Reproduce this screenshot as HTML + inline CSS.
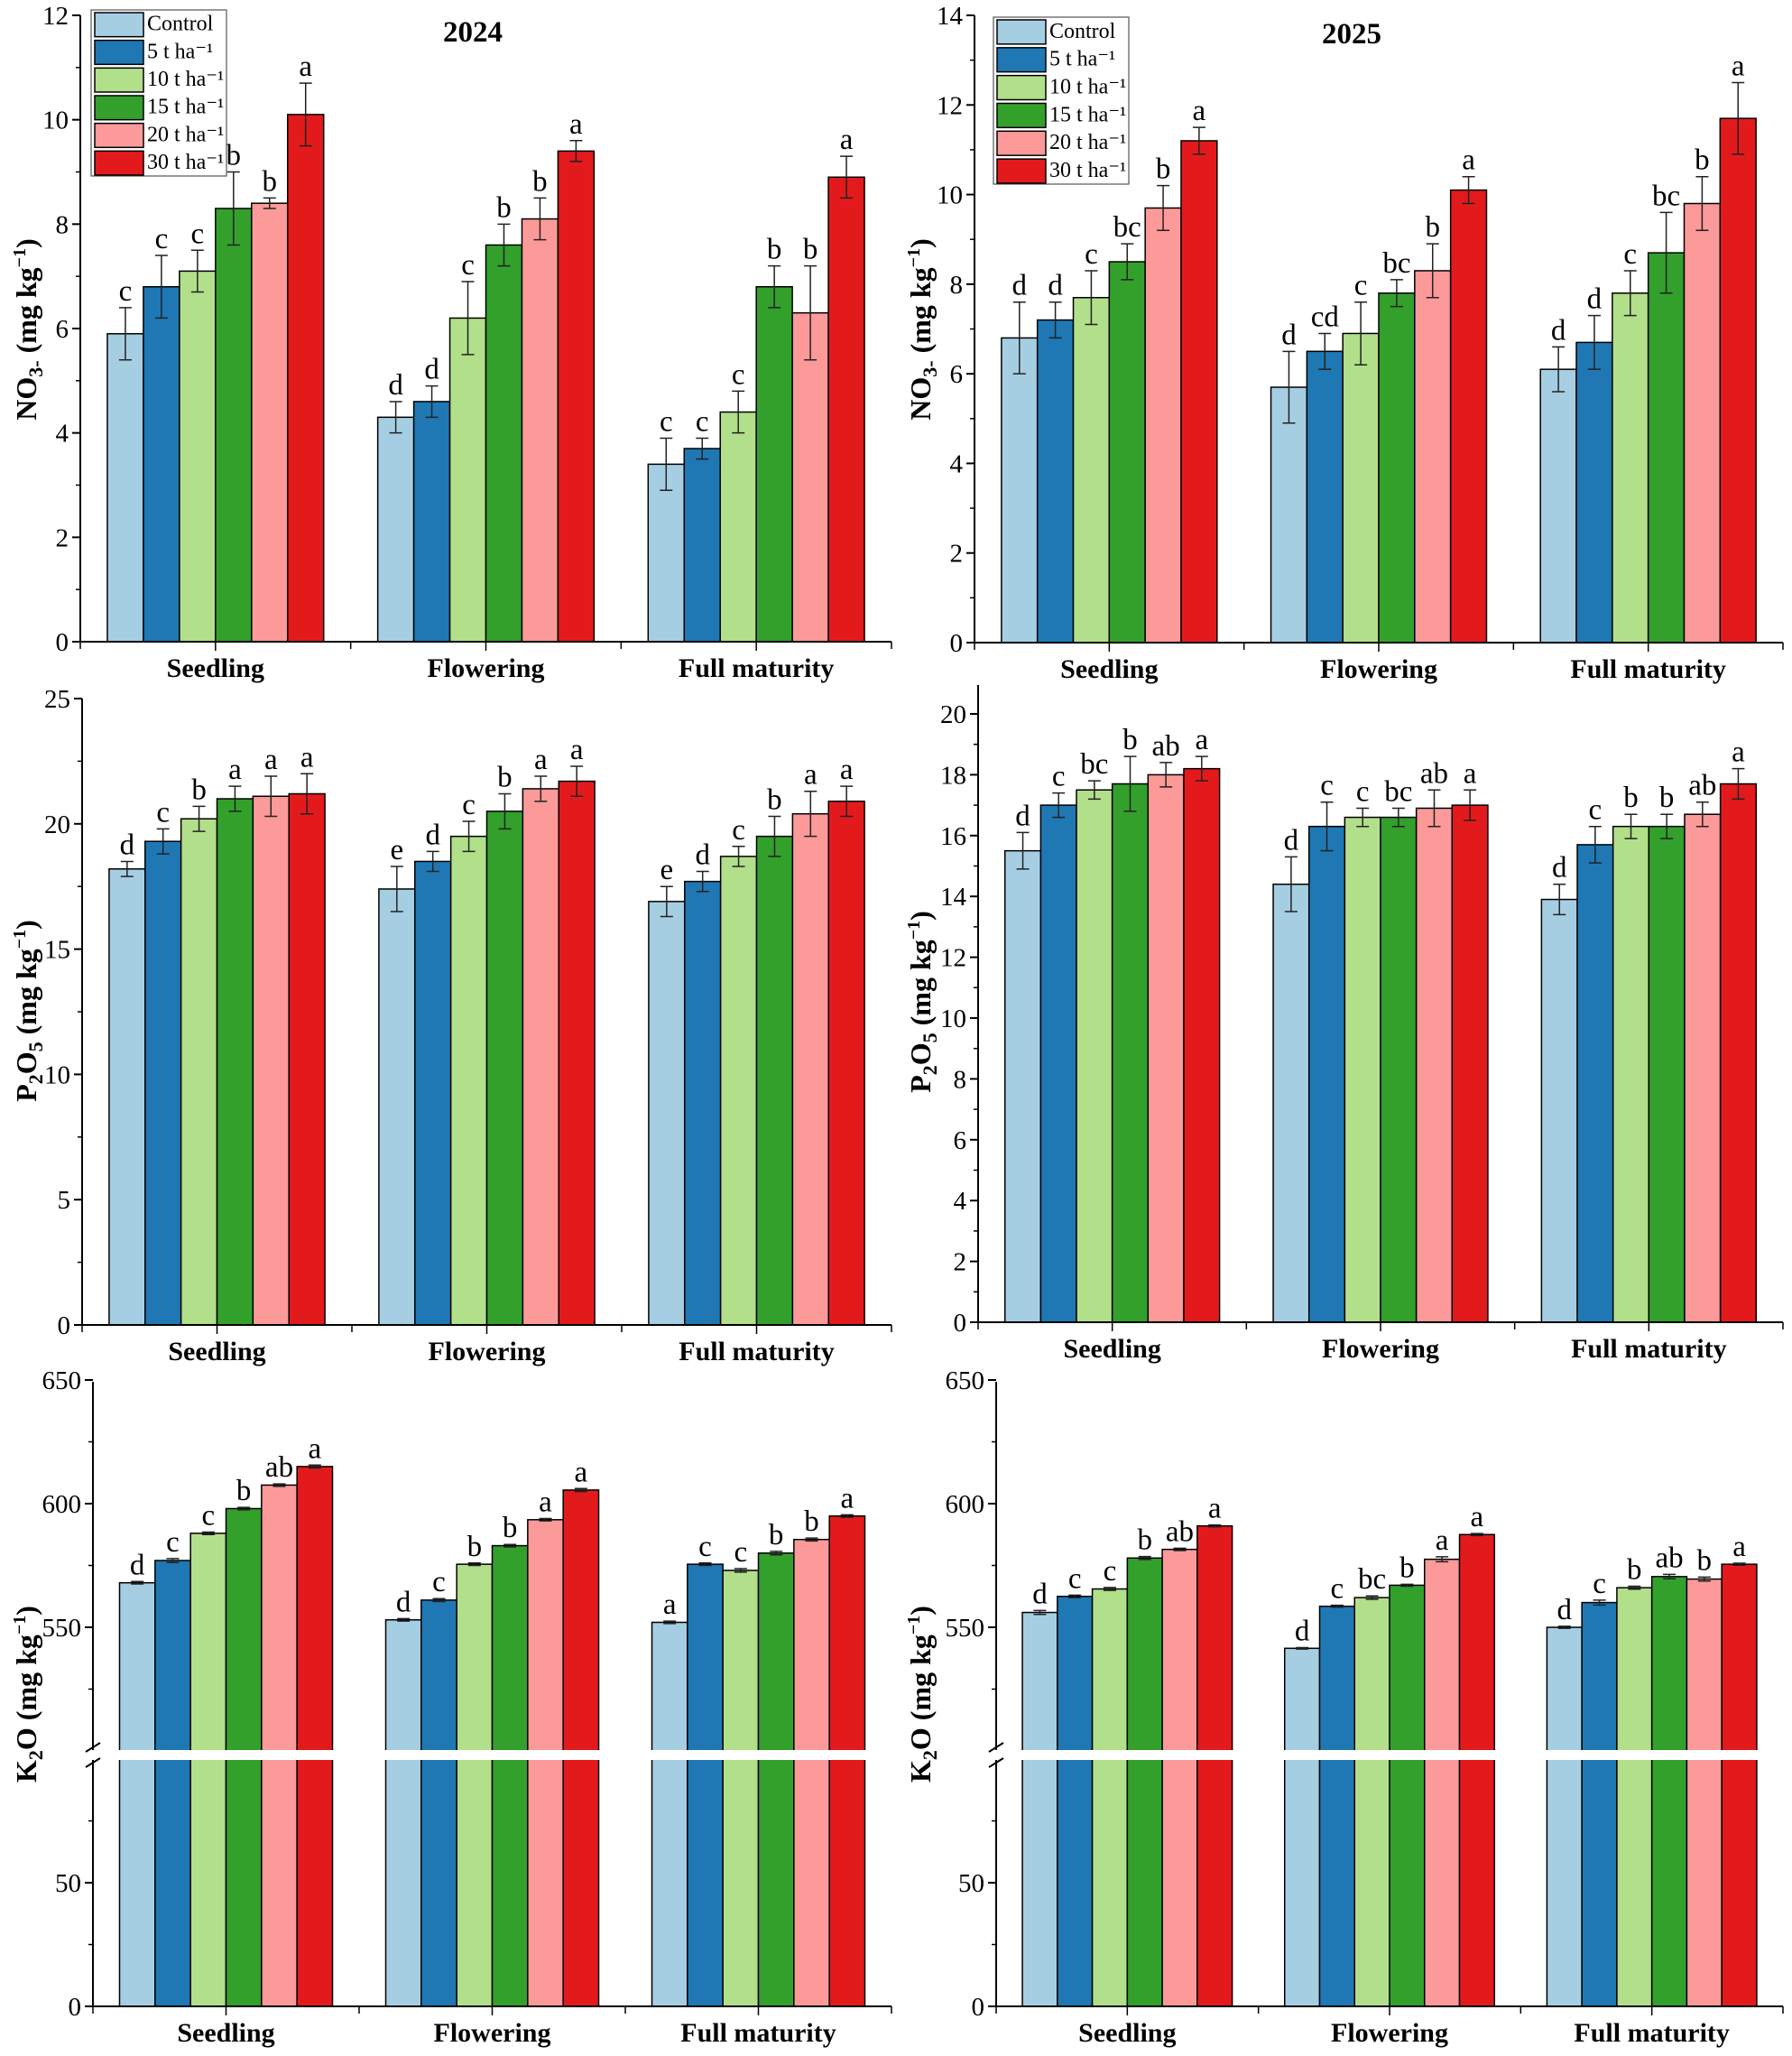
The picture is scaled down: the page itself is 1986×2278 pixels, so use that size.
<!DOCTYPE html>
<html><head><meta charset="utf-8"><style>
html,body{margin:0;padding:0;background:#fff}
svg{display:block}
text{font-family:"Liberation Serif",serif;fill:#000}
</style></head><body>
<svg id="fig" width="1986" height="2278" viewBox="0 0 1986 2278" xmlns="http://www.w3.org/2000/svg"></svg>
<script>
const stages = ["Seedling","Flowering","Full maturity"];
const treatments = ["Control","5 t ha⁻¹","10 t ha⁻¹","15 t ha⁻¹","20 t ha⁻¹","30 t ha⁻¹"];
const colors = ["#a6cee3","#1f78b4","#b2df8a","#33a02c","#fb9a99","#e31a1c"];

const no3_2024 = [[5.9,6.8,7.1,8.3,8.4,10.1],[4.3,4.6,6.2,7.6,8.1,9.4],[3.4,3.7,4.4,6.8,6.3,8.9]];
const no3_2024_err = [[0.5,0.6,0.4,0.7,0.1,0.6],[0.3,0.3,0.7,0.4,0.4,0.2],[0.5,0.2,0.4,0.4,0.9,0.4]];
const no3_2024_let = [["c","c","c","b","b","a"],["d","d","c","b","b","a"],["c","c","c","b","b","a"]];

const no3_2025 = [[6.8,7.2,7.7,8.5,9.7,11.2],[5.7,6.5,6.9,7.8,8.3,10.1],[6.1,6.7,7.8,8.7,9.8,11.7]];
const no3_2025_err = [[0.8,0.4,0.6,0.4,0.5,0.3],[0.8,0.4,0.7,0.3,0.6,0.3],[0.5,0.6,0.5,0.9,0.6,0.8]];
const no3_2025_let = [["d","d","c","bc","b","a"],["d","cd","c","bc","b","a"],["d","d","c","bc","b","a"]];

const p_2024 = [[18.2,19.3,20.2,21.0,21.1,21.2],[17.4,18.5,19.5,20.5,21.4,21.7],[16.9,17.7,18.7,19.5,20.4,20.9]];
const p_2024_err = [[0.3,0.5,0.5,0.5,0.8,0.8],[0.9,0.4,0.6,0.7,0.5,0.6],[0.6,0.4,0.4,0.8,0.9,0.6]];
const p_2024_let = [["d","c","b","a","a","a"],["e","d","c","b","a","a"],["e","d","c","b","a","a"]];

const p_2025 = [[15.5,17.0,17.5,17.7,18.0,18.2],[14.4,16.3,16.6,16.6,16.9,17.0],[13.9,15.7,16.3,16.3,16.7,17.7]];
const p_2025_err = [[0.6,0.4,0.3,0.9,0.4,0.4],[0.9,0.8,0.3,0.3,0.6,0.5],[0.5,0.6,0.4,0.4,0.4,0.5]];
const p_2025_let = [["d","c","bc","b","ab","a"],["d","c","c","bc","ab","a"],["d","c","b","b","ab","a"]];

const k_2024 = [[568,577,588,598,607.5,615],[553,561,575.5,583,593.5,605.5],[552,575.5,573,580,585.5,595]];
const k_2024_err = [[0.5,0.8,0.5,0.5,0.5,0.6],[0.5,0.6,0.5,0.5,0.5,0.6],[0.5,0.5,0.7,0.7,0.6,0.5]];
const k_2024_let = [["d","c","c","b","ab","a"],["d","c","b","b","a","a"],["a","c","c","b","b","a"]];

const k_2025 = [[556,562.5,565.5,578,581.5,591],[541.5,558.5,562,567,577.5,587.5],[550,560,566,570.5,569.5,575.5]];
const k_2025_err = [[0.8,0.5,0.6,0.6,0.5,0.4],[0.3,0.4,0.7,0.4,1.0,0.4],[0.4,1.0,0.6,0.9,0.8,0.4]];
const k_2025_let = [["d","c","c","b","ab","a"],["d","c","bc","b","a","a"],["d","c","b","ab","b","a"]];

const no3TicksL = [0,2,4,6,8,10,12];
const no3TicksR = [0,2,4,6,8,10,12,14];
const pTicksL = [0,5,10,15,20,25];
const pTicksR = [0,2,4,6,8,10,12,14,16,18,20];
const kTicks = [0,50,550,600,650];

const NS = "http://www.w3.org/2000/svg";
const svg = document.getElementById("fig");
function mk(tag, attrs, parent){
  const e = document.createElementNS(NS, tag);
  for (const k in attrs) e.setAttribute(k, attrs[k]);
  (parent||svg).appendChild(e);
  return e;
}

function panel(o){
  const g = mk("g",{});
  
  
  const y = o.yFn;
  const bandW = (o.x1 - o.x0)/3;
  const barW = bandW*0.8/6;
  o.vals.forEach((grp, gi) => {
    grp.forEach((v, ti) => {
      const bx = o.x0 + gi*bandW + bandW*0.1 + ti*barW;
      const top = y(v);
      const r = mk("rect",{x:bx, y:top, width:barW, height:o.y0 - top, fill:colors[ti], stroke:"#000", "stroke-width":1.5}, g);
      
      
      const e = o.err[gi][ti];
      const cx = bx + barW/2;
      const eb = mk("path",{d:`M${cx} ${y(v+e)}V${y(v-e)}M${cx-7} ${y(v+e)}H${cx+7}M${cx-7} ${y(v-e)}H${cx+7}`, stroke:"#222", "stroke-width":1.5, fill:"none"}, g);
      
      
      const t = mk("text",{x:cx, y:y(v+e)-8, "text-anchor":"middle", "font-size":33}, g);
      t.textContent = o.lets[gi][ti];
      
      
    });
  });
  if (o.brk){
    mk("rect",{x:o.x0+2, y:o.brk[0], width:o.x1-o.x0, height:o.brk[1]-o.brk[0], fill:"#fff"}, g);
  }
  const ax = mk("g",{}, g);
  
  
  if (o.brk){
    mk("line",{x1:o.x0,y1:o.yTop,x2:o.x0,y2:o.brk[0],stroke:"#000","stroke-width":2},ax);
    mk("line",{x1:o.x0,y1:o.brk[1],x2:o.x0,y2:o.y0,stroke:"#000","stroke-width":2},ax);
    mk("path",{d:`M${o.x0-8} ${o.brk[0]+2}L${o.x0+8} ${o.brk[0]-8}M${o.x0-8} ${o.brk[1]+8}L${o.x0+8} ${o.brk[1]-2}`,stroke:"#000","stroke-width":2},ax);
  } else {
    mk("line",{x1:o.x0,y1:o.yTop,x2:o.x0,y2:o.y0,stroke:"#000","stroke-width":2},ax);
  }
  o.ticks.forEach(t => {
    const ty = y(t);
    mk("line",{x1:o.x0-9,y1:ty,x2:o.x0,y2:ty,stroke:"#000","stroke-width":2},ax);
    const tl = mk("text",{x:o.x0-13,y:ty+10,"text-anchor":"end","font-size":29},ax);
    tl.textContent = t;
    
    
  });
  o.minor.forEach(t => {
    const ty = y(t);
    mk("line",{x1:o.x0-5,y1:ty,x2:o.x0,y2:ty,stroke:"#000","stroke-width":1.5},ax);
  });
  const xa = mk("g",{}, g);
  
  
  mk("line",{x1:o.x0,y1:o.y0,x2:o.x1,y2:o.y0,stroke:"#000","stroke-width":2},xa);
  for (let i=0;i<=3;i++){
    const tx = o.x0 + i*bandW;
    mk("line",{x1:tx,y1:o.y0,x2:tx,y2:o.y0+8,stroke:"#000","stroke-width":1.5},xa);
  }
  stages.forEach((s,i) => {
    const cx = o.x0 + (i+0.5)*bandW;
    mk("line",{x1:cx,y1:o.y0,x2:cx,y2:o.y0+10,stroke:"#000","stroke-width":1.5},xa);
    const tl = mk("text",{x:cx,y:o.y0+39,"text-anchor":"middle","font-size":30,"font-weight":"bold"},xa);
    tl.textContent = s;
    
    
  });
  const yt = mk("text",{transform:`translate(${o.titleX},${o.titleY}) rotate(-90)`,"text-anchor":"middle","font-size":32,"font-weight":"bold"}, g);
  yt.innerHTML = o.ytitle;
  
  
  if (o.year){
    const tt = mk("text",{x:o.year[1],y:o.year[2],"text-anchor":"middle","font-size":33,"font-weight":"bold"}, g);
    tt.textContent = o.year[0];
    
    
  }
  if (o.legend){
    const [lx,ly,lw,lh] = o.legend;
    const lg = mk("g",{}, g);
    
    
    mk("rect",{x:lx,y:ly,width:lw,height:lh,fill:"#fff",stroke:"#555","stroke-width":1.2},lg);
    const rh = lh/6;
    treatments.forEach((t,i) => {
      const le = mk("g",{},lg);
      
      
      mk("rect",{x:lx+4,y:ly+3+i*rh,width:54,height:rh-4,fill:colors[i],stroke:"#000","stroke-width":1.5},le);
      const tx = mk("text",{x:lx+62,y:ly+i*rh+rh*0.74,"font-size":24},le);
      tx.textContent = t;
    });
  }
}

function lin(v0,p0,v1,p1){ return v => p0 + (v - v0)*(p1 - p0)/(v1 - v0); }
function brokenY(v){ return v <= 100 ? lin(0,2223,50,2086)(v) : lin(550,1803,600,1666)(v); }
const range = (a,b,s) => { const r=[]; for(let v=a; v<=b+1e-9; v+=s) r.push(+v.toFixed(3)); return r; };

const SUB = (s) => `<tspan dy='7' font-size='22'>${s}</tspan><tspan dy='-7'>`;
const SUP = `<tspan dy='-12' font-size='20'>−1</tspan><tspan dy='12'>)</tspan>`;
const no3Y = `NO${SUB('3-')} (mg kg</tspan>${SUP}`;
const pY = `P${SUB('2')}O</tspan>${SUB('5')} (mg kg</tspan>${SUP}`;
const kY = `K${SUB('2')}O (mg kg</tspan>${SUP}`;

panel({name:"no3-2024-panel", x0:89, x1:988, y0:711, yTop:17, yFn:lin(0,711,12,17), vals:no3_2024, err:no3_2024_err, lets:no3_2024_let,
  ticks:no3TicksL, minor:range(1,11,2), ytitle:no3Y, titleX:40, titleY:365, year:["2024",524,46], legend:[101,11,150,184]});
panel({name:"no3-2025-panel", x0:1080, x1:1976, y0:712, yTop:17, yFn:lin(0,712,14,17), vals:no3_2025, err:no3_2025_err, lets:no3_2025_let,
  ticks:no3TicksR, minor:range(1,13,2), ytitle:no3Y, titleX:1031, titleY:365, year:["2025",1498,48], legend:[1101,19,150,185]});
panel({name:"p2o5-2024-panel", x0:91, x1:988, y0:1468, yTop:774, yFn:lin(0,1468,25,774), vals:p_2024, err:p_2024_err, lets:p_2024_let,
  ticks:pTicksL, minor:range(2.5,22.5,5), ytitle:pY, titleX:40, titleY:1120});
panel({name:"p2o5-2025-panel", x0:1084, x1:1976, y0:1465, yTop:759, yFn:lin(0,1465,20,791), vals:p_2025, err:p_2025_err, lets:p_2025_let,
  ticks:pTicksR, minor:range(1,19,2), ytitle:pY, titleX:1031, titleY:1110});
panel({name:"k2o-2024-panel", x0:103, x1:988, y0:2223, yTop:1531, yFn:brokenY, vals:k_2024, err:k_2024_err, lets:k_2024_let,
  ticks:kTicks, minor:[25,75,525,575,625], ytitle:kY, titleX:40, titleY:1877, brk:[1939,1950]});
panel({name:"k2o-2025-panel", x0:1104, x1:1976, y0:2223, yTop:1531, yFn:brokenY, vals:k_2025, err:k_2025_err, lets:k_2025_let,
  ticks:kTicks, minor:[25,75,525,575,625], ytitle:kY, titleX:1031, titleY:1877, brk:[1939,1950]});
</script>
</body></html>
